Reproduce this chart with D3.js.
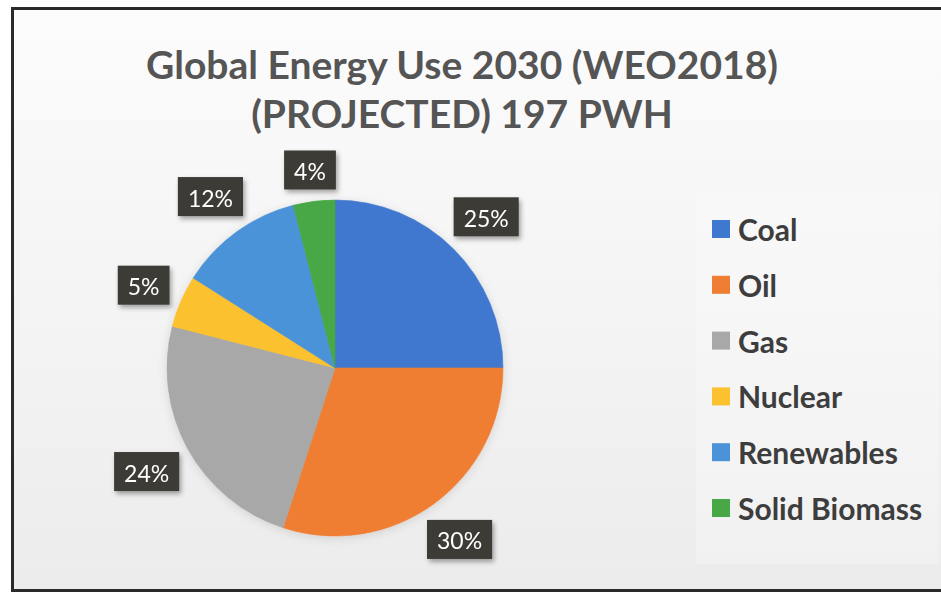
<!DOCTYPE html>
<html>
<head>
<meta charset="utf-8">
<script src="https://cdn.jsdelivr.net/npm/d3@7"></script>
<style>
  html, body { margin: 0; padding: 0; background: #ffffff; }
  svg { display: block; }
</style>
</head>
<body>
<svg id="chart" width="941" height="596"></svg>
<script>
// Energy mix shares, in percent
const categories = ["Coal", "Oil", "Gas", "Nuclear", "Renewables", "Solid Biomass"];
const shares = [25, 30, 24, 5, 12, 4];
const colors = ["#3f78cf", "#ef7d33", "#a8a8a8", "#fbc12e", "#4b93d8", "#47a845"];
const titleLines = ["Global Energy Use 2030 (WEO2018)", "(PROJECTED) 197 PWH"];

const svg = d3.select("#chart");
const W = 941, H = 596;
const font = "Lato, 'Open Sans', sans-serif";

const defs = svg.append("defs");
const bg = defs.append("linearGradient").attr("id", "bg")
  .attr("x1", 0).attr("y1", 0).attr("x2", 0).attr("y2", 1);
bg.append("stop").attr("offset", "0%").attr("stop-color", "#fcfcfc");
bg.append("stop").attr("offset", "100%").attr("stop-color", "#ececec");

const shadow = defs.append("filter").attr("id", "boxShadow")
  .attr("x", "-30%").attr("y", "-30%").attr("width", "170%").attr("height", "170%");
shadow.append("feDropShadow").attr("dx", 2).attr("dy", 3)
  .attr("stdDeviation", 2.5).attr("flood-color", "#000").attr("flood-opacity", 0.35);

const pieShadow = defs.append("filter").attr("id", "pieShadow")
  .attr("x", "-20%").attr("y", "-20%").attr("width", "140%").attr("height", "140%");
pieShadow.append("feDropShadow").attr("dx", 0).attr("dy", 2)
  .attr("stdDeviation", 5).attr("flood-color", "#000").attr("flood-opacity", 0.12);

// Chart frame
svg.append("rect")
  .attr("x", 12.5).attr("y", 8.5).attr("width", W + 10).attr("height", 582)
  .attr("fill", "url(#bg)").attr("stroke", "#2a2a2a").attr("stroke-width", 3);

// Legend panel (faintly lighter than the chart area)
svg.append("rect")
  .attr("x", 696).attr("y", 192).attr("width", 243).attr("height", 372)
  .attr("fill", "#ffffff").attr("opacity", 0.25);

// Title
svg.append("g").selectAll("text")
  .data(titleLines)
  .join("text")
  .attr("x", 462)
  .attr("y", (d, i) => 79 + i * 49)
  .attr("text-anchor", "middle")
  .attr("font-family", font)
  .attr("font-weight", 700)
  .attr("font-size", 39)
  .attr("fill", "#555555")
  .text(d => d);

// Pie
const cx = 335, cy = 368, R = 168;
const color = d3.scaleOrdinal().domain(categories).range(colors);
const pie = d3.pie().sort(null).value(d => d.value);
const arcs = pie(categories.map((c, i) => ({ name: c, value: shares[i] })));
const arc = d3.arc().innerRadius(0).outerRadius(R);

const pg = svg.append("g").attr("transform", `translate(${cx},${cy})`);
pg.append("g").attr("filter", "url(#pieShadow)")
  .selectAll("path")
  .data(arcs)
  .join("path")
  .attr("d", arc)
  .attr("fill", d => color(d.data.name))
  .attr("stroke", d => color(d.data.name))
  .attr("stroke-width", 0.6);

// Data labels: dark boxes placed just outside each slice
const gap = 9;
const lg = pg.append("g");
arcs.forEach(d => {
  const g = lg.append("g").attr("filter", "url(#boxShadow)");
  const t = g.append("text")
    .attr("font-family", font)
    .attr("font-size", 23)
    .attr("fill", "#ffffff")
    .attr("text-anchor", "middle")
    .attr("dominant-baseline", "central")
    .text(d3.format(".0%")(d.data.value / 100));
  const tw = t.node().getComputedTextLength();
  const bw = tw + 20, bh = 39;
  const mid = (d.startAngle + d.endAngle) / 2;
  const ux = Math.sin(mid), uy = -Math.cos(mid);
  const dist = R + gap + Math.abs(ux) * bw / 2 + Math.abs(uy) * bh / 2;
  const x = ux * dist, y = uy * dist;
  g.insert("rect", "text")
    .attr("x", x - bw / 2).attr("y", y - bh / 2)
    .attr("width", bw).attr("height", bh)
    .attr("fill", "#3e3a36");
  t.attr("x", x).attr("y", y + 1);
});

// Legend
const ly = d3.scalePoint().domain(categories).range([229, 508]);
const leg = svg.append("g").selectAll("g")
  .data(categories)
  .join("g")
  .attr("transform", d => `translate(712,${ly(d)})`);
leg.append("rect")
  .attr("x", 0).attr("y", -9).attr("width", 18).attr("height", 18)
  .attr("fill", d => color(d));
leg.append("text")
  .attr("x", 26).attr("y", 0)
  .attr("dominant-baseline", "central")
  .attr("font-family", font)
  .attr("font-weight", 700)
  .attr("font-size", 30)
  .attr("fill", "#3d3d3d")
  .text(d => d);
</script>
</body>
</html>
